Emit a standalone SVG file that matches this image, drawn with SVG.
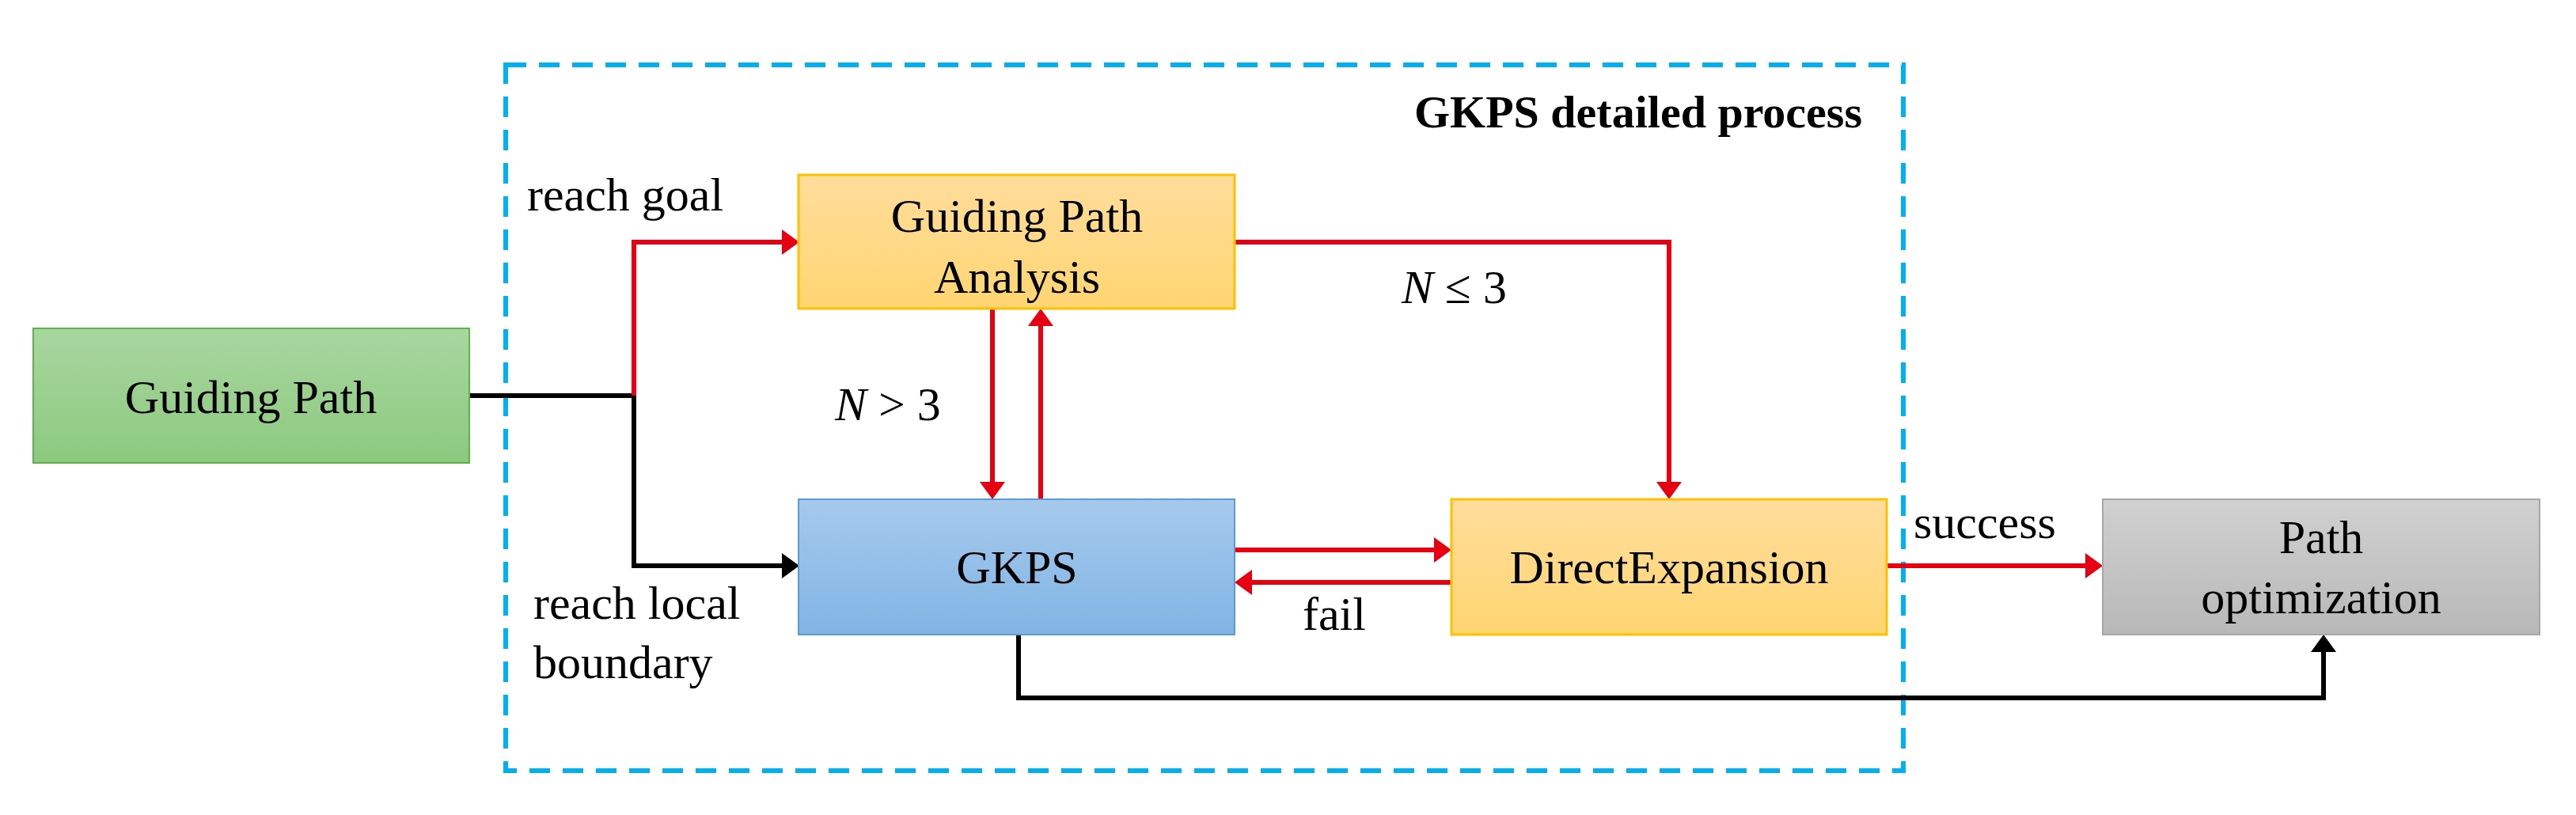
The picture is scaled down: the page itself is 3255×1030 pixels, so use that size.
<svg xmlns="http://www.w3.org/2000/svg" width="3255" height="1030" viewBox="0 0 3255 1030">
<defs>
<linearGradient id="gG" x1="0" y1="0" x2="0" y2="1"><stop offset="0" stop-color="#A9D6A0"/><stop offset="1" stop-color="#8BC97E"/></linearGradient>
<linearGradient id="gO" x1="0" y1="0" x2="0" y2="1"><stop offset="0" stop-color="#FFDD9C"/><stop offset="1" stop-color="#FFD571"/></linearGradient>
<linearGradient id="gB" x1="0" y1="0" x2="0" y2="1"><stop offset="0" stop-color="#A6C9EC"/><stop offset="1" stop-color="#80B4E4"/></linearGradient>
<linearGradient id="gS" x1="0" y1="0" x2="0" y2="1"><stop offset="0" stop-color="#D0D0D0"/><stop offset="1" stop-color="#B8B8B8"/></linearGradient>
<marker id="aR" markerWidth="8" markerHeight="8" refX="7" refY="4" orient="auto" markerUnits="userSpaceOnUse" viewBox="0 0 8 8"><path d="M0,0 L8,4 L0,8 z" fill="#E60012"/></marker>
<marker id="aK" markerWidth="8" markerHeight="8" refX="7" refY="4" orient="auto" markerUnits="userSpaceOnUse" viewBox="0 0 8 8"><path d="M0,0 L8,4 L0,8 z" fill="#000"/></marker>
</defs>
<style>
text{font-family:"Liberation Serif",serif;font-size:60px;fill:#000}
.c{text-anchor:middle}
.r{fill:none;stroke:#E60012;stroke-width:6}
.k{fill:none;stroke:#000;stroke-width:6}
</style>
<marker/>
<rect x="0" y="0" width="3255" height="1030" fill="#fff"/>
<rect x="639" y="82" width="1766" height="892" fill="none" stroke="#00B0F0" stroke-width="6" stroke-dasharray="26 16"/>
<text x="2353" y="161" text-anchor="end" font-weight="bold" style="font-size:58px">GKPS detailed process</text>
<g id="connectors">
<path class="k" d="M593,500 H801"/>
<path class="r" d="M801,500 V306 H1003" marker-end="url(#aR)" style="stroke-width:6"/>
<path class="k" d="M801,500 V715 H1003"/>
<path class="r" d="M1254,390 V625"/>
<path class="r" d="M1315,631 V396"/>
<path class="r" d="M1560,306 H2109 V625"/>
<path class="r" d="M1560,695 H1828"/>
<path class="r" d="M1834,736 H1566"/>
<path class="r" d="M2384,715 H2651"/>
<path class="k" d="M1287,802 V882 H2936 V808"/>
<path d="M988,290 L1010,306 L988,322 z" fill="#E60012"/>
<path d="M988,699 L1010,715 L988,731 z" fill="#000"/>
<path d="M1238,609 L1254,631 L1270,609 z" fill="#E60012"/>
<path d="M1299,412 L1315,390 L1331,412 z" fill="#E60012"/>
<path d="M2093,609 L2109,631 L2125,609 z" fill="#E60012"/>
<path d="M1812,679 L1834,695 L1812,711 z" fill="#E60012"/>
<path d="M1582,720 L1560,736 L1582,752 z" fill="#E60012"/>
<path d="M2635,699 L2657,715 L2635,731 z" fill="#E60012"/>
<path d="M2920,824 L2936,802 L2952,824 z" fill="#000"/>
</g>
<text x="666" y="266">reach goal</text>
<text x="674" y="782">reach local</text>
<text x="674" y="857">boundary</text>
<text x="1055" y="531"><tspan font-style="italic">N</tspan> &gt; 3</text>
<text x="1771" y="383"><tspan font-style="italic">N</tspan> ≤ 3</text>
<text x="1646" y="796">fail</text>
<text x="2418" y="680">success</text>
<g id="guiding"><rect x="42" y="415" width="551" height="170" fill="url(#gG)" stroke="#5DB34A" stroke-width="2"/><text class="c" x="317" y="522">Guiding Path</text></g>
<g id="gpa"><rect x="1009" y="221" width="551" height="169" fill="url(#gO)" stroke="#FFC000" stroke-width="3"/><text class="c" x="1285" y="293">Guiding Path</text><text class="c" x="1285" y="370">Analysis</text></g>
<g id="gkps"><rect x="1009" y="631" width="551" height="171" fill="url(#gB)" stroke="#5B9BD5" stroke-width="2"/><text class="c" x="1285" y="737">GKPS</text></g>
<g id="de"><rect x="1834" y="631" width="550" height="171" fill="url(#gO)" stroke="#FFC000" stroke-width="3"/><text class="c" x="2109" y="737">DirectExpansion</text></g>
<g id="po"><rect x="2657" y="631" width="552" height="171" fill="url(#gS)" stroke="#A6A6A6" stroke-width="2"/><text class="c" x="2933" y="699">Path</text><text class="c" x="2933" y="775">optimization</text></g>
</svg>
